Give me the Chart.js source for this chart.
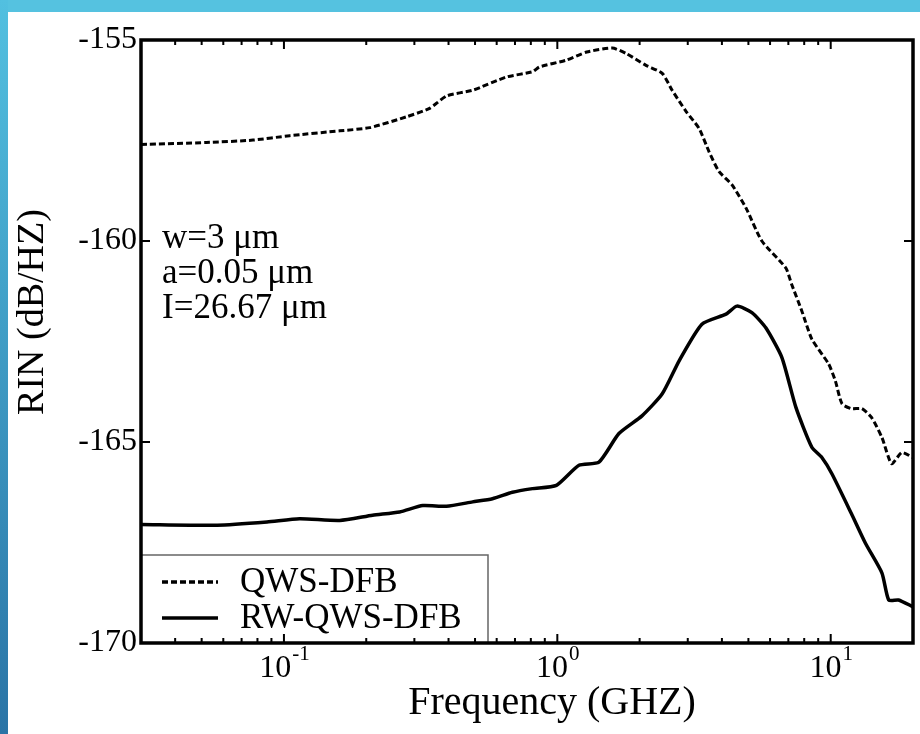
<!DOCTYPE html>
<html>
<head>
<meta charset="utf-8">
<script src="https://cdn.jsdelivr.net/npm/chart.js@4"></script>
<style>
  html, body { margin: 0; padding: 0; background: #fff; }
  #wrap { width: 920px; height: 734px; position: relative; }
</style>
</head>
<body>
<div id="wrap"><canvas id="rinChart" width="920" height="734"></canvas></div>
<script>
// QWS-DFB (dashed)
var qwsFreq = [0.03, 0.052, 0.077, 0.105, 0.16, 0.206, 0.281, 0.341, 0.394, 0.49,
               0.652, 0.811, 0.86, 1.08, 1.28, 1.59, 1.79, 2.11, 2.42, 2.63,
               2.96, 3.3, 3.59, 3.9, 4.35, 4.9, 5.6, 6.85, 7.2, 7.84,
               8.53, 9.83, 10.4, 11.0, 11.9, 13.0, 14.1, 15.4, 16.7, 18.2, 20];
var qwsRin = [-157.6, -157.55, -157.49, -157.38, -157.26, -157.18, -156.91, -156.70, -156.39, -156.25,
              -155.92, -155.79, -155.67, -155.50, -155.30, -155.20, -155.34, -155.63, -155.83, -156.25,
              -156.78, -157.20, -157.78, -158.27, -158.60, -159.18, -160.0, -160.67, -161.08, -161.74,
              -162.44, -163.06, -163.48, -164.05, -164.17, -164.17, -164.39, -164.89, -165.54, -165.26, -165.39];

// RW-QWS-DFB (solid)
var rwFreq = [0.03, 0.057, 0.0867, 0.114, 0.16, 0.211, 0.265, 0.322, 0.393, 0.49,
              0.579, 0.685, 0.811, 0.992, 1.2, 1.42, 1.68, 2.04, 2.42, 2.79,
              3.38, 4.14, 4.54, 5.15, 5.79, 6.63, 7.46, 8.53, 9.27, 10.1,
              11.9, 13.4, 15.4, 16.3, 17.7, 20];
var rwRin = [-167.05, -167.07, -166.99, -166.91, -166.95, -166.82, -166.74, -166.58, -166.60, -166.49,
             -166.41, -166.25, -166.16, -166.08, -165.58, -165.50, -164.79, -164.35, -163.80, -162.98,
             -162.07, -161.82, -161.62, -161.78, -162.16, -162.90, -164.14, -165.13, -165.38, -165.79,
             -166.78, -167.52, -168.26, -168.93, -168.93, -169.10];

var seriesLabels = ['QWS-DFB', 'RW-QWS-DFB'];
var yTicks = [-155, -160, -165, -170];
var xMajorTicks = [0.1, 1, 10];
var xMajorExp = ['-1', '0', '1'];
var xMinorTicks = [0.04, 0.05, 0.06, 0.07, 0.08, 0.09,
                   0.2, 0.3, 0.4, 0.5, 0.6, 0.7, 0.8, 0.9,
                   2, 3, 4, 5, 6, 7, 8, 9];
var noteLines = ['w=3 \u03bcm', 'a=0.05 \u03bcm', 'I=26.67 \u03bcm'];

var SERIF = '"Liberation Serif", "Times New Roman", serif';

function pairs(xs, ys) {
  return xs.map(function (x, i) { return { x: x, y: ys[i] }; });
}

// slide background: white page with blue strips on top and left
var pageBg = {
  id: 'pageBg',
  beforeDraw: function (chart) {
    var ctx = chart.ctx;
    ctx.save();
    ctx.fillStyle = '#ffffff';
    ctx.fillRect(0, 0, chart.width, chart.height);
    ctx.fillStyle = '#55c2e0';
    ctx.fillRect(0, 0, chart.width, 12);
    var g = ctx.createLinearGradient(0, 0, 0, chart.height);
    g.addColorStop(0, '#52c0e0');
    g.addColorStop(1, '#2a74a6');
    ctx.fillStyle = g;
    ctx.fillRect(0, 0, 8, chart.height);
    ctx.restore();
  }
};

// frame, inward ticks, x labels, titles, note and legend box
var frame = {
  id: 'frame',
  afterDraw: function (chart) {
    var ctx = chart.ctx, a = chart.chartArea;
    var xs = chart.scales.x, ys = chart.scales.y;
    ctx.save();
    ctx.strokeStyle = '#000';
    ctx.lineWidth = 2;
    ctx.beginPath();
    xMajorTicks.forEach(function (v) {
      var px = xs.getPixelForValue(v);
      ctx.moveTo(px, a.bottom); ctx.lineTo(px, a.bottom - 9);
      ctx.moveTo(px, a.top); ctx.lineTo(px, a.top + 9);
    });
    xMinorTicks.forEach(function (v) {
      var px = xs.getPixelForValue(v);
      ctx.moveTo(px, a.bottom); ctx.lineTo(px, a.bottom - 5);
      ctx.moveTo(px, a.top); ctx.lineTo(px, a.top + 5);
    });
    yTicks.forEach(function (v) {
      var py = ys.getPixelForValue(v);
      ctx.moveTo(a.left, py); ctx.lineTo(a.left + 9, py);
      ctx.moveTo(a.right, py); ctx.lineTo(a.right - 9, py);
    });
    ctx.stroke();

    // legend box
    var lx = a.left, lr = 488, lt = 555;
    ctx.strokeStyle = '#666';
    ctx.lineWidth = 1.5;
    ctx.beginPath();
    ctx.moveTo(lx, lt); ctx.lineTo(lr, lt); ctx.lineTo(lr, a.bottom);
    ctx.stroke();
    var rows = [582, 618];
    chart.data.datasets.forEach(function (ds, i) {
      ctx.strokeStyle = '#000';
      ctx.lineWidth = 3.5;
      ctx.setLineDash(ds.borderDash || []);
      ctx.beginPath();
      ctx.moveTo(162, rows[i]); ctx.lineTo(218, rows[i]);
      ctx.stroke();
      ctx.setLineDash([]);
      ctx.fillStyle = '#000';
      ctx.font = '35px ' + SERIF;
      ctx.textAlign = 'left';
      ctx.textBaseline = 'middle';
      ctx.fillText(ds.label, 240, rows[i] + 1);
    });

    // outer frame
    ctx.strokeStyle = '#000';
    ctx.lineWidth = 3.5;
    ctx.strokeRect(a.left, a.top, a.right - a.left, a.bottom - a.top);

    // x tick labels 10^n
    ctx.fillStyle = '#000';
    ctx.textBaseline = 'alphabetic';
    xMajorTicks.forEach(function (v, i) {
      var px = xs.getPixelForValue(v);
      ctx.font = '32px ' + SERIF;
      var wBase = ctx.measureText('10').width;
      ctx.font = '21px ' + SERIF;
      var wExp = ctx.measureText(xMajorExp[i]).width;
      var x0 = px - (wBase + wExp) / 2;
      ctx.textAlign = 'left';
      ctx.font = '32px ' + SERIF;
      ctx.fillText('10', x0, 677);
      ctx.font = '21px ' + SERIF;
      ctx.fillText(xMajorExp[i], x0 + wBase + 1, 660);
    });

    // axis titles
    ctx.font = '40px ' + SERIF;
    ctx.textAlign = 'center';
    ctx.textBaseline = 'middle';
    ctx.fillText('Frequency (GHZ)', 552, 703);
    ctx.save();
    ctx.translate(33, 312);
    ctx.rotate(-Math.PI / 2);
    ctx.font = '38px ' + SERIF;
    ctx.fillText('RIN (dB/HZ)', 0, 0);
    ctx.restore();

    // parameter note
    ctx.font = '35px ' + SERIF;
    ctx.textAlign = 'left';
    noteLines.forEach(function (t, i) {
      ctx.fillText(t, 162, 239 + i * 35);
    });
    ctx.restore();
  }
};

var chart = new Chart(document.getElementById('rinChart'), {
  type: 'line',
  data: {
    datasets: [
      {
        label: seriesLabels[0],
        data: pairs(qwsFreq, qwsRin),
        borderColor: '#000',
        borderWidth: 3,
        borderDash: [6, 3],
        pointRadius: 0,
        tension: 0.2,
        fill: false
      },
      {
        label: seriesLabels[1],
        data: pairs(rwFreq, rwRin),
        borderColor: '#000',
        borderWidth: 3.5,
        pointRadius: 0,
        tension: 0.2,
        fill: false
      }
    ]
  },
  options: {
    animation: false,
    responsive: false,
    devicePixelRatio: 1,
    layout: { padding: { left: 0, right: 7, top: 40, bottom: 0 } },
    plugins: {
      legend: { display: false },
      tooltip: { enabled: false }
    },
    scales: {
      x: {
        type: 'logarithmic',
        min: 0.03,
        max: 20,
        grid: { display: false, drawTicks: false },
        border: { display: false },
        ticks: { display: false },
        afterFit: function (s) { s.height = 91; }
      },
      y: {
        type: 'linear',
        min: -170,
        max: -155,
        afterBuildTicks: function (s) {
          s.ticks = yTicks.map(function (v) { return { value: v }; });
        },
        grid: { display: false, drawTicks: false },
        border: { display: false },
        ticks: {
          color: '#000',
          padding: 4,
          font: { family: SERIF, size: 32 },
          callback: function (v) { return String(v); }
        },
        afterFit: function (s) { s.width = 141; }
      }
    }
  },
  plugins: [pageBg, frame]
});
</script>
</body>
</html>
